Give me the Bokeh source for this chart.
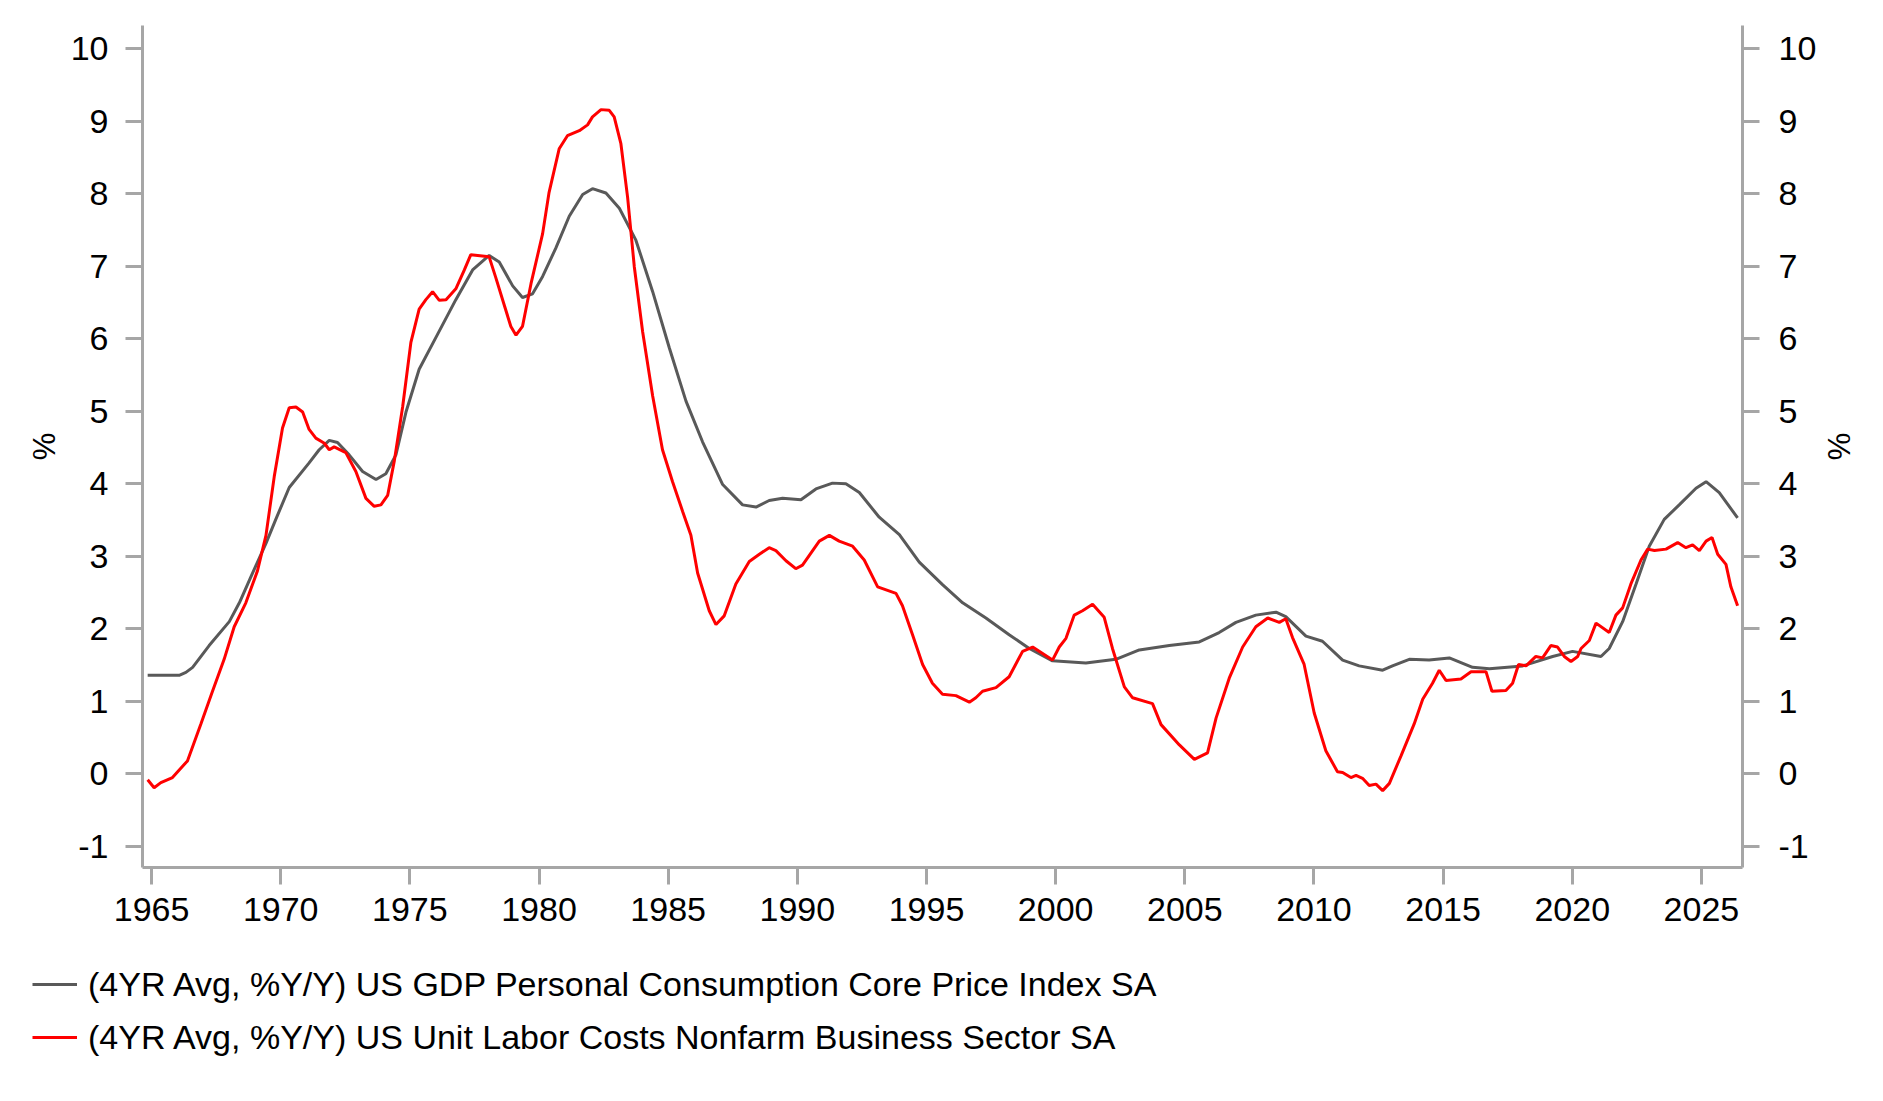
from bokeh.plotting import figure
from bokeh.layouts import column
from bokeh.models import Range1d, LinearAxis, FixedTicker, Legend, LegendItem
from bokeh.embed import file_html
from bokeh.resources import INLINE

# ---- data (decimal year, %) ----
core_pce_years = [1964.85, 1966.07, 1966.33, 1966.59, 1967.23, 1968.01, 1968.40, 1968.91, 1969.43,
                  1969.81, 1970.33, 1971.10, 1971.49, 1971.88, 1972.20, 1972.65, 1973.17, 1973.69,
                  1974.07, 1974.46, 1974.85, 1975.36, 1976.01, 1976.78, 1977.43, 1978.07, 1978.46,
                  1978.98, 1979.36, 1979.75, 1980.14, 1980.65, 1981.17, 1981.69, 1982.07, 1982.59,
                  1983.11, 1983.75, 1984.40, 1985.04, 1985.69, 1986.33, 1987.11, 1987.88, 1988.40,
                  1988.91, 1989.43, 1990.14, 1990.72, 1991.36, 1991.88, 1992.40, 1993.17, 1993.95,
                  1994.72, 1995.62, 1996.40, 1997.30, 1998.20, 1998.98, 1999.88, 2001.17, 2002.33,
                  2003.24, 2004.40, 2005.56, 2006.33, 2006.98, 2007.75, 2008.53, 2008.91, 2009.69,
                  2010.33, 2011.11, 2011.75, 2012.66, 2013.04, 2013.69, 2014.46, 2015.24, 2016.14,
                  2016.79, 2018.08, 2019.24, 2020.01, 2021.11, 2021.43, 2021.95, 2022.47, 2022.98,
                  2023.56, 2024.14, 2024.79, 2025.18, 2025.69, 2026.40]
core_pce_values = [1.36, 1.36, 1.40, 1.47, 1.77, 2.10, 2.36, 2.77, 3.18,
                   3.51, 3.95, 4.29, 4.47, 4.60, 4.57, 4.40, 4.17, 4.06,
                   4.14, 4.40, 4.99, 5.58, 6.02, 6.54, 6.95, 7.15, 7.06,
                   6.73, 6.57, 6.62, 6.86, 7.25, 7.69, 7.99, 8.07, 8.01,
                   7.80, 7.36, 6.65, 5.88, 5.14, 4.58, 3.99, 3.71, 3.68,
                   3.77, 3.80, 3.78, 3.93, 4.01, 4.00, 3.88, 3.54, 3.30,
                   2.92, 2.61, 2.36, 2.15, 1.92, 1.73, 1.56, 1.53, 1.58,
                   1.71, 1.77, 1.82, 1.95, 2.09, 2.19, 2.23, 2.17, 1.90,
                   1.83, 1.57, 1.49, 1.43, 1.49, 1.58, 1.57, 1.60, 1.47,
                   1.45, 1.49, 1.62, 1.69, 1.62, 1.73, 2.10, 2.62, 3.14,
                   3.51, 3.71, 3.94, 4.03, 3.88, 3.53]

ulc_years = [1964.85, 1965.10, 1965.36, 1965.81, 1966.39, 1966.91, 1967.36, 1967.81, 1968.20,
             1968.65, 1969.10, 1969.43, 1969.75, 1970.07, 1970.33, 1970.59, 1970.85, 1971.10,
             1971.36, 1971.69, 1971.88, 1972.07, 1972.52, 1972.91, 1973.30, 1973.62, 1973.88,
             1974.14, 1974.40, 1974.72, 1975.04, 1975.36, 1975.62, 1975.88, 1976.14, 1976.40,
             1976.78, 1977.11, 1977.36, 1978.07, 1978.33, 1978.65, 1978.91, 1979.11, 1979.36,
             1979.69, 1980.14, 1980.39, 1980.78, 1981.10, 1981.56, 1981.88, 1982.07, 1982.40,
             1982.72, 1982.91, 1983.17, 1983.43, 1983.69, 1984.01, 1984.40, 1984.78, 1985.17,
             1985.56, 1985.88, 1986.14, 1986.59, 1986.85, 1987.17, 1987.62, 1988.14, 1988.53,
             1988.91, 1989.17, 1989.56, 1989.94, 1990.20, 1990.85, 1991.24, 1991.62, 1992.14,
             1992.59, 1993.11, 1993.82, 1994.07, 1994.46, 1994.85, 1995.23, 1995.62, 1996.14,
             1996.66, 1996.91, 1997.17, 1997.69, 1998.20, 1998.72, 1999.11, 1999.88, 2000.14,
             2000.40, 2000.72, 2001.04, 2001.43, 2001.88, 2002.20, 2002.66, 2002.98, 2003.75,
             2004.08, 2004.79, 2005.37, 2005.88, 2006.21, 2006.72, 2007.24, 2007.75, 2008.21,
             2008.66, 2008.91, 2009.17, 2009.62, 2010.01, 2010.46, 2010.91, 2011.11, 2011.43,
             2011.63, 2011.88, 2012.14, 2012.40, 2012.66, 2012.92, 2013.37, 2013.88, 2014.21,
             2014.59, 2014.85, 2015.11, 2015.69, 2016.08, 2016.66, 2016.89, 2017.43, 2017.69,
             2017.92, 2018.21, 2018.59, 2018.85, 2019.17, 2019.43, 2019.69, 2019.95, 2020.21,
             2020.34, 2020.66, 2020.92, 2021.43, 2021.69, 2021.95, 2022.27, 2022.66, 2022.92,
             2023.18, 2023.63, 2024.08, 2024.40, 2024.66, 2024.92, 2025.18, 2025.41, 2025.63,
             2025.95, 2026.14, 2026.40]
ulc_values = [-0.08, -0.19, -0.12, -0.05, 0.18, 0.69, 1.14, 1.58, 2.03,
              2.36, 2.80, 3.29, 4.10, 4.77, 5.05, 5.06, 4.99, 4.75,
              4.63, 4.56, 4.47, 4.51, 4.43, 4.17, 3.80, 3.69, 3.71,
              3.84, 4.32, 5.06, 5.95, 6.41, 6.54, 6.65, 6.53, 6.54,
              6.69, 6.95, 7.16, 7.13, 6.84, 6.47, 6.17, 6.05, 6.17,
              6.76, 7.45, 8.02, 8.62, 8.80, 8.87, 8.95, 9.06, 9.16,
              9.15, 9.06, 8.69, 7.95, 6.99, 6.10, 5.21, 4.47, 4.03,
              3.62, 3.29, 2.77, 2.25, 2.06, 2.18, 2.62, 2.93, 3.03,
              3.12, 3.08, 2.94, 2.83, 2.88, 3.21, 3.29, 3.21, 3.14,
              2.95, 2.58, 2.49, 2.32, 1.92, 1.51, 1.25, 1.10, 1.08,
              0.99, 1.05, 1.14, 1.19, 1.34, 1.69, 1.75, 1.57, 1.75,
              1.87, 2.19, 2.25, 2.34, 2.16, 1.73, 1.20, 1.05, 0.97,
              0.68, 0.40, 0.20, 0.29, 0.77, 1.32, 1.75, 2.03, 2.15,
              2.09, 2.14, 1.88, 1.51, 0.84, 0.32, 0.03, 0.02, -0.05,
              -0.02, -0.06, -0.16, -0.14, -0.23, -0.13, 0.25, 0.69, 1.03,
              1.25, 1.43, 1.29, 1.31, 1.41, 1.41, 1.14, 1.15, 1.25,
              1.51, 1.49, 1.62, 1.60, 1.77, 1.75, 1.62, 1.55, 1.62,
              1.73, 1.84, 2.08, 1.95, 2.19, 2.29, 2.62, 2.95, 3.10,
              3.08, 3.10, 3.19, 3.12, 3.16, 3.08, 3.21, 3.26, 3.03,
              2.89, 2.58, 2.32]

x_ticks = [1965, 1970, 1975, 1980, 1985, 1990, 1995, 2000, 2005, 2010, 2015, 2020, 2025]
y_ticks = [-1, 0, 1, 2, 3, 4, 5, 6, 7, 8, 9, 10]
series_labels = ["(4YR Avg, %Y/Y) US GDP Personal Consumption Core Price Index SA",
                 "(4YR Avg, %Y/Y) US Unit Labor Costs Nonfarm Business Sector SA"]
series_colors = ["#595959", "#FF0000"]

FONT = "Liberation Sans"
AXIS_COLOR = "#A6A6A6"

# ---- main chart ----
p = figure(width=1867, height=950, output_backend="svg", toolbar_location=None,
           x_range=Range1d(1964.65, 2026.59), y_range=Range1d(-1.29, 10.32),
           y_axis_label="%", min_border_left=142, min_border_right=125,
           min_border_top=25, min_border_bottom=83)
p.frame_align = False
p.outline_line_color = None
p.grid.visible = False
p.background_fill_color = "white"
p.border_fill_color = "white"

right_axis = LinearAxis(axis_label="%")
p.add_layout(right_axis, "right")

for ax in [p.xaxis[0], p.yaxis[0], right_axis]:
    ax.axis_line_color = AXIS_COLOR
    ax.axis_line_width = 3
    ax.major_tick_line_color = AXIS_COLOR
    ax.major_tick_line_width = 3
    ax.major_tick_in = 0
    ax.major_tick_out = 17
    ax.minor_tick_line_color = None
    ax.major_label_text_font = FONT
    ax.major_label_text_font_size = "34px"
    ax.major_label_text_color = "black"
    ax.axis_label_text_font = FONT
    ax.axis_label_text_font_size = "31px"
    ax.axis_label_text_font_style = "normal"
    ax.axis_label_text_color = "black"

p.xaxis[0].ticker = FixedTicker(ticks=x_ticks)
p.xaxis[0].major_label_standoff = 13
p.yaxis[0].ticker = FixedTicker(ticks=y_ticks)
p.yaxis[0].major_label_standoff = 17
p.yaxis[0].axis_label_standoff = 6
p.yaxis[0].major_label_overrides = {-1: "-1"}
right_axis.ticker = FixedTicker(ticks=y_ticks)
right_axis.major_label_standoff = 19
right_axis.axis_label_standoff = 2
right_axis.major_label_overrides = {-1: "-1"}

p.line(core_pce_years, core_pce_values, line_color=series_colors[0], line_width=3)
p.line(ulc_years, ulc_values, line_color=series_colors[1], line_width=3)

# ---- legend strip below the chart (its lines lie outside the strip's visible range) ----
lg = figure(width=1867, height=135, output_backend="svg", toolbar_location=None,
            x_range=Range1d(0, 1), y_range=Range1d(0, 1),
            min_border_left=0, min_border_right=0, min_border_top=0, min_border_bottom=0)
lg.frame_align = False
lg.axis.visible = False
lg.grid.visible = False
lg.outline_line_color = None
lg.background_fill_color = "white"
lg.border_fill_color = "white"
k1 = lg.line(core_pce_years, core_pce_values, line_color=series_colors[0], line_width=3)
k2 = lg.line(ulc_years, ulc_values, line_color=series_colors[1], line_width=3)

legend = Legend(items=[LegendItem(label=series_labels[0], renderers=[k1]),
                       LegendItem(label=series_labels[1], renderers=[k2])],
                location=(32, 28), orientation="vertical",
                glyph_width=45, glyph_height=40, label_height=40, label_standoff=11,
                spacing=13, padding=0, margin=0,
                border_line_color=None, background_fill_alpha=0,
                label_text_font=FONT, label_text_font_size="34px", label_text_color="black")
lg.add_layout(legend, "center")

layout = column(p, lg, spacing=0)
open("out.html", "w").write(file_html(layout, INLINE))
